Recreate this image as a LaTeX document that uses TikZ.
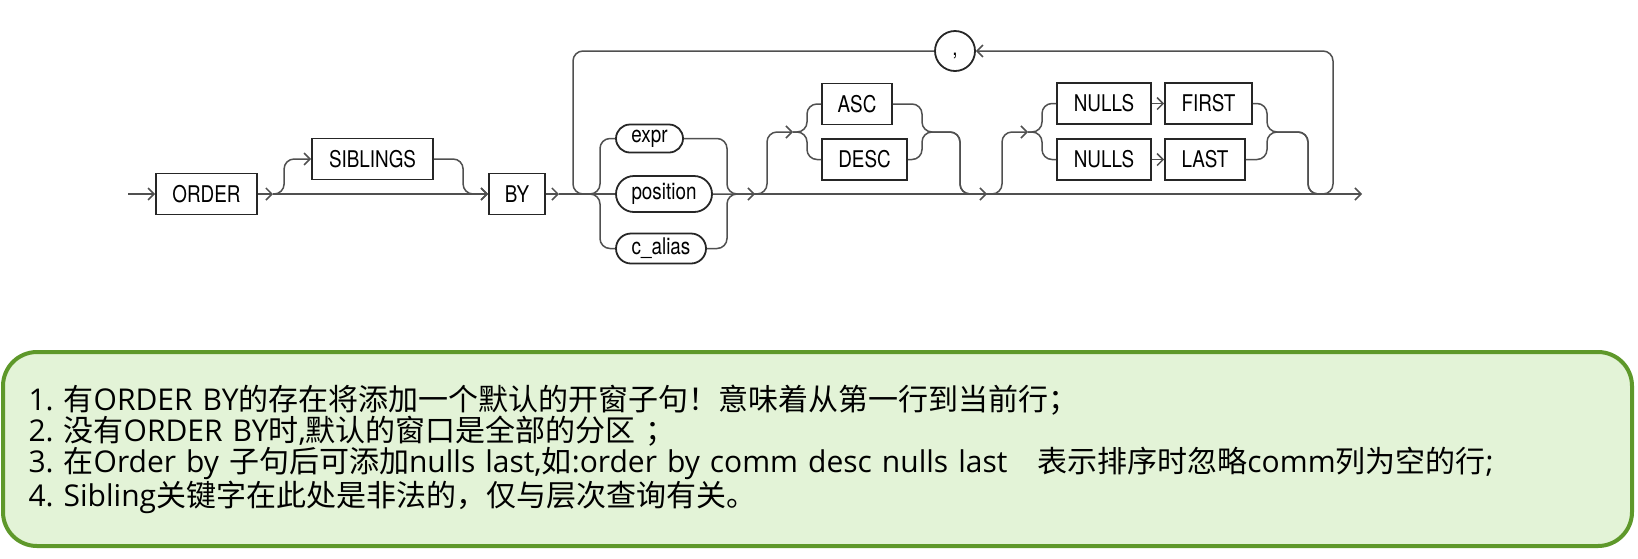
\documentclass[tikz,border=0pt]{standalone}
\usepackage{fontspec}
\setmainfont{Open Sans}
\newfontfamily\zh{Noto Sans CJK SC}
\newfontfamily\rr{TeX Gyre Heros}[FakeStretch=0.82]
\usepackage{tikz}
\usetikzlibrary{arrows.meta}
\usetikzlibrary{shapes.misc}
\definecolor{rail}{RGB}{80,80,80}
\definecolor{notefill}{RGB}{227,243,215}
\definecolor{noteline}{RGB}{94,152,42}
\frenchspacing

\begin{document}
\begin{tikzpicture}[x=1pt, y=-1pt, >={Straight Barb[length=6pt,width=12pt]}, rounded corners=10pt, line width=1.5pt, color=rail]
        \tikzstyle{kw}=[draw=black!85, text=black, line width=1.8pt, rectangle, sharp corners, minimum height=41pt, inner sep=0pt, font=\rr\fontsize{23}{27}\selectfont]
        \tikzstyle{var}=[kw, rounded rectangle]
        \tikzstyle{note}=[draw=noteline, line width=4pt, fill=notefill, rounded corners=34pt, minimum width=1629pt, minimum height=194pt, inner xsep=0pt, text width=1578pt, align=left, text=black, font=\fontsize{30}{29}\selectfont]
        \useasboundingbox (0,0) rectangle (1638,558);

        \node[kw, minimum width=101pt] (order) at (206.5,194) {ORDER};
        \node[kw, minimum width=121pt] (sib) at (372.5,159) {SIBLINGS};
        \node[kw, minimum width=56pt] (by) at (517,194) {BY};
        \node[var, minimum width=67pt, minimum height=28pt] (expr) at (649.5,138.5) {expr};
        \node[var, minimum width=96pt, minimum height=36pt] (pos) at (664,194) {position};
        \node[var, minimum width=90pt, minimum height=30pt] (alias) at (661,248.5) {c\_alias};
        \node[kw, minimum width=70pt] (asc) at (857,104) {ASC};
        \node[kw, minimum width=85pt] (desc) at (864.5,159.5) {DESC};
        \node[kw, minimum width=94pt] (n1) at (1104,103.5) {NULLS};
        \node[kw, minimum width=87pt] (first) at (1208.5,103.5) {FIRST};
        \node[kw, minimum width=94pt] (n2) at (1104,159.5) {NULLS};
        \node[kw, minimum width=80pt] (last) at (1205,159.5) {LAST};
        \node[kw, circle, minimum size=40pt, text height=0pt, text depth=0pt] (comma) at (955,51) {\raisebox{-4pt}{,}};

        \coordinate (start) at (128,194);
        \coordinate (j1) at (273,194);
        \coordinate (j2) at (559,194);
        \coordinate (lpl) at (573,194);
        \coordinate (cl) at (600,194);
        \coordinate (cr) at (727,194);
        \coordinate (j3) at (755,194);
        \coordinate (a1) at (793,132);
        \coordinate (s1) at (807,132);
        \coordinate (s2) at (922,132);
        \coordinate (m1) at (960,194);
        \coordinate (j4) at (987,194);
        \coordinate (a2) at (1028,132);
        \coordinate (s3) at (1042,132);
        \coordinate (s4) at (1267,132);
        \coordinate (m2) at (1308,194);
        \coordinate (lpr) at (1333,194);
        \coordinate (end) at (1362,194);

        \path[->] (start) edge (order)
                  (order) edge (j1)
                  (j1) edge (by)
                  (by) edge (j2)
                  (pos) edge (j3)
                  (j3) edge (j4)
                  (j4) edge (end)
                  (n1) edge (first)
                  (n2) edge (last);
        \path (j2) edge (pos);

        \draw[->] (j1) -| ([xshift=-27pt]sib.west) -- (sib);
        \draw[->] (sib) -| ([xshift=-25pt]by.west) -- (by);

        \draw (j2) -| (cl |- expr) -- (expr);
        \draw (j2) -| (cl |- alias) -- (alias);
        \draw (expr) -| (cr) -- (j3);
        \draw (alias) -| (cr) -- (j3);

        \draw[->] (j3) -| ([xshift=-26pt]a1) -- (a1);
        \draw (a1) -| (s1 |- asc) -- (asc);
        \draw (a1) -| (s1 |- desc) -- (desc);
        \draw (asc) -| (s2) -| (m1) -- (j4);
        \draw (desc) -| (s2) -| (m1) -- (j4);

        \draw[->] (j4) -| ([xshift=-26pt]a2) -- (a2);
        \draw (a2) -| (s3 |- n1) -- (n1);
        \draw (a2) -| (s3 |- n2) -- (n2);
        \draw (first) -| (s4) -| (m2) -- (lpr);
        \draw (last) -| (s4) -| (m2) -- (lpr);

        \draw[->] (m2) -| (lpr |- comma) -- (comma);
        \draw (comma) -| (lpl) -- (cl);

        \node[note] (notes) at (817.5,449) {1. {\zh 有}ORDER BY{\zh 的存在将添加一个默认的开窗子句！意味着从第一行到当前行；}\\
        2. {\zh 没有}ORDER BY{\zh 时},{\zh 默认的窗口是全部的分区} {\zh ；}\\
        3. {\zh 在}Order by {\zh 子句后可添加}nulls last,{\zh 如}:order by comm desc nulls last\ \ \ {\zh 表示排序时忽略}comm{\zh 列为空的行};\\
        4. Sibling{\zh 关键字在此处是非法的，仅与层次查询有关。}};
    \end{tikzpicture}
\end{document}
